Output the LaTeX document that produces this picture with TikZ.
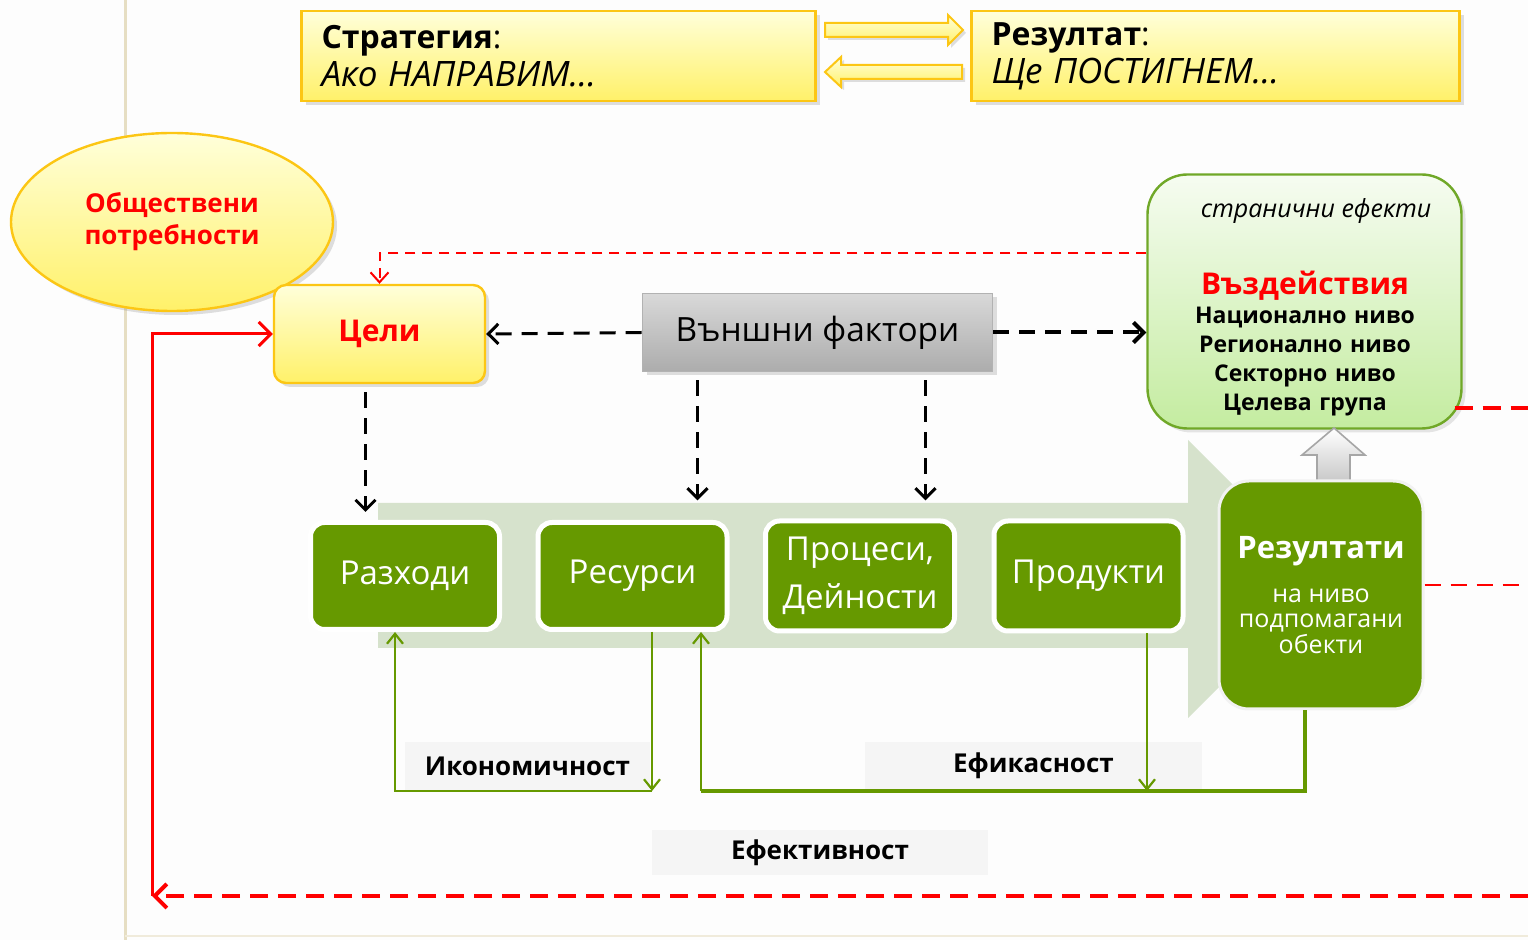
\documentclass[tikz,border=0pt]{standalone}
\usepackage{fontspec}
\setmainfont{Open Sans}
\usetikzlibrary{positioning,shapes.geometric,shadows,arrows.meta}

\definecolor{pagebg}{RGB}{253,253,253}
\definecolor{edgecol}{RGB}{230,222,195}
\definecolor{gold}{RGB}{252,198,20}
\definecolor{yeltop}{RGB}{255,255,218}
\definecolor{yelbot}{RGB}{255,241,105}
\definecolor{vdborder}{RGB}{112,168,40}
\definecolor{vdtop}{RGB}{246,252,241}
\definecolor{vdbot}{RGB}{196,236,160}
\definecolor{lightgrn}{RGB}{214,226,204}
\definecolor{darkgrn}{RGB}{102,153,0}
\definecolor{lblgrey}{RGB}{245,245,245}

\begin{document}
\begin{tikzpicture}[x=0.5pt,y=-0.5pt,
	yelbox/.style={draw=gold,line width=1.2pt,top color=yeltop,bottom color=yelbot,drop shadow={opacity=0.25,shadow xshift=2pt,shadow yshift=-2pt}},
	grnbox/.style={draw=white,line width=2.5pt,fill=darkgrn,rounded corners=7pt,text=white,minimum width=94.5pt,minimum height=53.5pt,align=center,inner sep=1pt,font=\fontsize{16.5}{24}\selectfont},
	lbl/.style={fill=lblgrey,minimum height=24pt,font=\bfseries\fontsize{13}{15}\selectfont},
	bkdash/.style={line width=1.5pt,dash pattern=on 8pt off 5pt,-{Straight Barb[length=5pt,width=10pt]}},
	grnline/.style={darkgrn,line width=1.1pt},
	grnarr/.style={-{Straight Barb[length=5pt,width=8pt]}}]
	\useasboundingbox (0,0) rectangle (1528,940);
	\fill[pagebg] (0,0) rectangle (1528,940);
	\draw[edgecol,line width=1.5pt] (125,0) -- (125,940);
	\draw[edgecol!60,line width=1pt] (125,936) -- (1528,936);

	% top row
	\node[yelbox,text width=237pt,inner xsep=10pt,minimum height=45pt,align=left,font=\fontsize{16}{19}\selectfont] (strat) at (558.5,56) {\textbf{Стратегия}:\\\textit{\fontsize{17.5}{19}\selectfont Ако НАПРАВИМ…}};
	\node[yelbox,text width=224pt,inner xsep=10pt,minimum height=45pt,align=left,font=\fontsize{16}{19}\selectfont] (rezt) at (1215.5,56) {\textbf{Резултат}:\\\textit{\fontsize{17.5}{19}\selectfont Ще ПОСТИГНЕМ…}};
	\draw[draw=gold,line width=1pt,top color=yeltop,bottom color=yelbot,drop shadow={opacity=0.25,shadow xshift=1.5pt,shadow yshift=-1.5pt}] (825,23) -- (948,23) -- (948,15) -- (963,30) -- (948,45) -- (948,37) -- (825,37) -- cycle;
	\draw[draw=gold,line width=1pt,top color=yeltop,bottom color=yelbot,drop shadow={opacity=0.25,shadow xshift=1.5pt,shadow yshift=-1.5pt}] (962,65) -- (841,65) -- (841,57) -- (825,72) -- (841,87) -- (841,79) -- (962,79) -- cycle;

	\node[yelbox,ellipse,minimum width=161pt,minimum height=89pt,text=red,align=center,font=\bfseries\fontsize{13}{16}\selectfont] (need) at (172,222) {Обществени\\потребности};
	\node[yelbox,rounded corners=6pt,minimum width=105.5pt,minimum height=49pt,text=red,font=\bfseries\fontsize{15}{18}\selectfont] (celi) at (379.5,334) {Цели};
	\node[draw=gray!60,line width=0.8pt,top color=gray!30,bottom color=gray!65,drop shadow={opacity=0.25,shadow xshift=2pt,shadow yshift=-2pt},minimum width=175pt,minimum height=39pt,font=\fontsize{16.7}{20}\selectfont] (vf) at (817.5,332.5) {Външни фактори};
	\node[draw=vdborder,line width=1.2pt,rounded corners=20pt,top color=vdtop,bottom color=vdbot,drop shadow={opacity=0.2,shadow xshift=2pt,shadow yshift=-2pt},minimum width=157pt,minimum height=127pt] (vd) at (1304.5,301.5) {};
	\node[font=\itshape\fontsize{12.5}{14}\selectfont] (side) at (1316,211) {странични ефекти};
	\node[align=center,text width=150pt,font=\bfseries\fontsize{11.5}{14.5}\selectfont] (vdtxt) at (1305,344) {\textcolor{red}{\fontsize{15}{17}\selectfont Въздействия}\\Национално ниво\\Регионално ниво\\Секторно ниво\\Целева група};

	% chain
	\fill[lightgrn] (378,503) -- (1188,503) -- (1188,440) -- (1327,579) -- (1188,718) -- (1188,648) -- (378,648) -- cycle;
	\node[grnbox] (razh) at (405,576) {Разходи};
	\node[grnbox] (res) at (632.5,576) {Ресурси};
	\node[grnbox,minimum height=55pt] (proc) at (860,576) {Процеси,\\Дейности};
	\node[grnbox,minimum height=55pt] (prod) at (1088.5,576) {Продукти};
	\draw[draw=gray!70,line width=0.8pt,top color=white,bottom color=gray!45] (1317,484) -- (1317,455) -- (1302,455) -- (1334,428) -- (1365,455) -- (1350,455) -- (1350,484) -- cycle;
	\node[grnbox,draw=white!95!black,line width=1.5pt,rounded corners=15pt,minimum width=102pt,minimum height=114pt,font=\fontsize{12.5}{12.8}\selectfont] (rezl) at (1321,595) {\bfseries\fontsize{15.5}{18}\selectfont Резултати\\[9pt]на ниво\\подпомагани\\обекти};

	% labels
	\node[lbl,minimum width=122.5pt] (ikon) at (527.5,766) {Икономичност};
	\node[lbl,minimum width=168.5pt] (efik) at (1033.5,766) {Ефикасност};
	\node[lbl,minimum width=168pt,minimum height=22.5pt] (efek) at (820,852.5) {Ефективност};

	% red links
	\coordinate (e1) at (1528,408);
	\coordinate (e2) at (1528,585);
	\coordinate (e3) at (1528,896);
	\coordinate (c0) at (152,896);
	\draw[red,line width=1pt,dash pattern=on 5pt off 3.5pt,-{Straight Barb[length=5pt,width=9pt]}] (vd.west |- 0,253) -| (celi.north);
	\draw[red,line width=2pt,dash pattern=on 9pt off 5pt] ([xshift=-4pt]vd.east |- e1) -- (e1);
	\draw[red,line width=1.2pt,dash pattern=on 8pt off 5pt] (rezl.east |- e2) -- (e2);
	\draw[red,line width=2pt,dash pattern=on 9pt off 5pt,-{Straight Barb[length=6pt,width=12pt]}] (e3) -- (c0);
	\draw[red,line width=1.5pt,-{Straight Barb[length=6pt,width=12pt]}] (c0) |- (celi.west);

	% external factors
	\draw[bkdash] (vf.west) -- (celi.east);
	\draw[bkdash,line width=2pt] (vf.east) -- (vd.west |- vf.east);
	\draw[bkdash,shorten <=4pt,shorten >=4pt] ([xshift=-7pt]celi.south) -- ([xshift=-7pt]celi.south |- razh.north);
	\draw[bkdash,shorten <=4pt] ([xshift=-60pt]vf.south) -- +(0,128);
	\draw[bkdash,shorten <=4pt] ([xshift=54pt]vf.south) -- +(0,128);

	% green links
	\coordinate (ikr) at (652,791);
	\coordinate (ikl) at (395,791);
	\coordinate (efl) at (701,791);
	\coordinate (efm) at (1147,791);
	\coordinate (efr) at (1305,791);
	\draw[grnline,grnarr] (res.south -| ikr) -- (ikr);
	\draw[grnline,grnarr] (ikr) -- (ikl) -- (razh.south -| ikl);
	\draw[grnline,line width=2pt] (efl) -- (efr) -- (rezl.south -| efr);
	\draw[grnline,grnarr] (prod.south -| efm) -- (efm);
	\draw[grnline,grnarr] (efl) -- (res.south -| efl);
\end{tikzpicture}
\end{document}
